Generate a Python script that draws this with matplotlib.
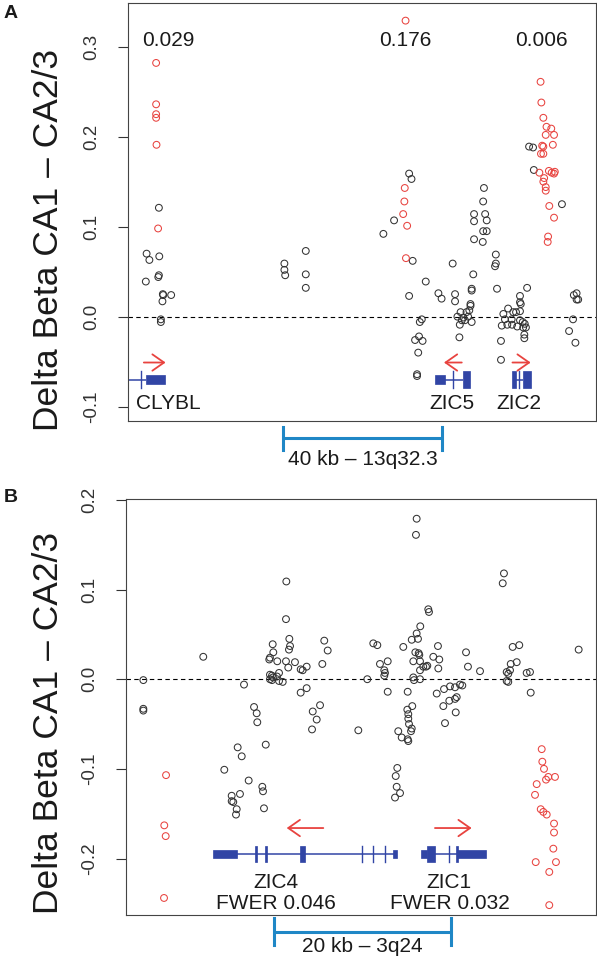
import matplotlib
matplotlib.use('Agg')
import matplotlib.pyplot as plt
import matplotlib.transforms as mtransforms
from matplotlib.patches import Rectangle, FancyArrowPatch

plt.rcParams['font.family'] = ['Liberation Sans', 'DejaVu Sans']

# ---------------- Panel A data (x: kb from window start, y: delta beta) ----------------
a_black_pos = [7.8, 4.7, 5.4, 7.9, 4.5, 7.8, 7.65, 8.8, 8.9, 10.9, 8.7, 8.3, 8.3,
               39.5, 39.5, 39.7, 44.9, 44.9, 44.9,
               71.0, 71.6, 67.2, 64.5, 71.9, 75.2, 71.0, 74.2, 73.7, 73.5, 72.5, 74.4,
               73.3, 73.0, 73.0, 82.0, 78.4, 79.2, 82.6, 82.6,
               89.9, 89.7, 87.4, 90.2, 87.4, 90.6, 89.7, 90.6, 87.4, 89.6, 87.2,
               86.8, 86.8, 86.5, 86.5,
               83.2, 84.0, 84.7, 85.5, 86.2, 85.1, 85.9, 86.8, 84.3, 83.8, 83.7,
               92.9, 92.9, 92.7, 93.2,
               101.3, 102.3, 102.5, 109.6, 100.8, 99.0, 99.0, 99.2, 96.0, 94.8, 97.3,
               98.0, 99.0, 95.2, 96.9, 99.0, 99.7, 100.2, 94.4, 95.8, 97.0, 98.3,
               99.8, 100.5, 100.1, 100.1, 94.2, 94.2,
               113.3, 112.6, 113.3, 113.7, 112.4, 111.4, 113.0]
a_black_val = [0.121, 0.070, 0.063, 0.067, 0.039, 0.046, 0.044, 0.025, 0.024, 0.024, 0.017, -0.003, -0.006,
               0.059, 0.052, 0.046, 0.073, 0.047, 0.032,
               0.159, 0.153, 0.107, 0.092, 0.062, 0.039, 0.023, -0.003, -0.006, -0.022, -0.026, -0.027,
               -0.040, -0.064, -0.066, 0.059, 0.026, 0.020, 0.025, 0.017,
               0.143, 0.128, 0.114, 0.114, 0.106, 0.107, 0.095, 0.095, 0.086, 0.083, 0.047,
               0.031, 0.029, 0.014, 0.012,
               0.000, 0.005, -0.001, 0.005, 0.007, -0.004, 0.000, -0.006, -0.004, -0.009, -0.023,
               0.069, 0.059, 0.056, 0.031,
               0.189, 0.188, 0.163, 0.125, 0.032, 0.023, 0.016, 0.014, 0.009, 0.003, 0.005,
               0.005, 0.006, -0.003, -0.003, -0.004, -0.006, -0.008, -0.010, -0.009, -0.009, -0.011,
               -0.012, -0.012, -0.020, -0.024, -0.027, -0.048,
               0.026, 0.024, 0.019, 0.019, -0.003, -0.016, -0.029]
a_red_pos = [7.1, 7.1, 7.1, 7.1, 7.2, 7.6,
             70.1, 69.9, 69.8, 69.5, 70.5, 70.2,
             104.2, 104.4, 104.9, 105.7, 106.9, 105.5, 107.6, 104.6, 104.9, 107.3, 104.3,
             104.9, 103.9, 106.3, 107.0, 107.6, 107.8, 105.1, 104.9, 105.5, 105.5, 106.4,
             107.6, 106.1, 106.0]
a_red_val = [0.282, 0.236, 0.225, 0.221, 0.191, 0.098,
             0.329, 0.143, 0.128, 0.114, 0.101, 0.065,
             0.261, 0.238, 0.221, 0.211, 0.209, 0.202, 0.202, 0.190, 0.189, 0.191, 0.181,
             0.181, 0.160, 0.162, 0.160, 0.159, 0.161, 0.154, 0.150, 0.144, 0.140, 0.123,
             0.110, 0.089, 0.083]
a_pval_text = ['0.029', '0.176', '0.006']
a_pval_pos = [10.2, 70.0, 104.5]

# genes in panel A: intron line, exons (start, end, tall?), thin ticks, arrow (from, to)
a_gene_names = ['CLYBL', 'ZIC5', 'ZIC2']
a_gene_label_pos = [2.0, 81.7, 98.7]
a_gene_lines = [(-2.0, 4.5), (80.0, 84.7), (97.9, 99.8)]
a_gene_exons = [[(4.5, 9.4, False)], [(77.5, 80.0, False), (84.7, 86.5, True)],
                [(96.9, 97.9, True), (99.8, 101.9, True)]]
a_gene_ticks = [[3.2], [82.1], [98.8]]
a_gene_arrows = [(4.0, 9.5), (84.3, 79.8), (97.1, 101.7)]
a_scale = (39.2, 79.2, '40 kb \u2013 13q32.3')

# ---------------- Panel B data ----------------
b_black_pos = [1.97, 1.97, 1.97, 8.78, 13.41, 14.55, 14.85, 14.92,
               18.18, 18.22, 18.56, 18.64, 18.52, 16.67, 16.74, 16.36, 16.28, 17.19, 18.18,
               18.44, 19.20, 19.85, 20.08, 20.53, 22.53, 22.92, 22.31,
               16.36, 16.59, 16.36, 16.59, 17.16, 17.39, 17.39, 17.81, 16.70,
               20.53, 19.85, 22.05, 21.22, 21.67, 21.14, 15.88, 12.69, 13.15, 11.17,
               13.94, 15.49, 15.57, 12.95, 12.01, 12.01, 12.19, 12.58, 12.50, 15.68, 26.40,
               33.03, 32.95, 42.95, 42.81, 51.44, 43.94, 44.69, 43.72, 44.40, 43.26, 43.44,
               43.64, 43.26, 43.44, 45.53, 45.91, 45.99, 40.23,
               34.35, 34.43, 33.44, 33.03, 33.18, 32.47, 28.10, 28.56, 31.51, 35.45, 38.64,
               32.88, 33.26, 33.33, 34.92, 35.60, 29.74, 28.86, 32.65, 33.41, 33.78, 34.09,
               34.24, 38.86, 33.41, 35.49, 29.35, 29.43, 29.35, 27.42, 32.65, 32.73, 33.41,
               29.74, 32.01, 35.31, 36.14, 36.82, 37.39, 37.95, 38.22,
               36.06, 36.74, 37.39, 37.58, 32.53, 31.97, 32.08, 32.08, 32.16, 32.47, 32.39,
               37.47, 36.25, 30.94, 31.33, 32.08, 32.01, 30.83, 30.65, 30.76, 31.14, 30.57]
b_black_val = [-0.001, -0.033, -0.035, 0.025, -0.006, -0.031, -0.038, -0.048,
               0.067, 0.109, 0.045, 0.037, 0.033, 0.039, 0.030, 0.024, 0.022, 0.020, 0.020,
               0.013, 0.019, 0.011, 0.010, 0.014, 0.043, 0.032, 0.017,
               0.005, 0.004, 0.000, -0.001, 0.003, 0.007, -0.002, -0.003, 0.002,
               -0.010, -0.015, -0.029, -0.036, -0.045, -0.056, -0.073, -0.076, -0.086, -0.101,
               -0.113, -0.120, -0.125, -0.128, -0.130, -0.136, -0.137, -0.145, -0.151, -0.144, -0.057,
               0.179, 0.161, 0.118, 0.107, 0.033, 0.036, 0.038, 0.017, 0.019, 0.008, 0.006,
               0.010, -0.002, -0.003, 0.007, 0.008, -0.015, 0.009,
               0.078, 0.075, 0.059, 0.051, 0.045, 0.044, 0.040, 0.038, 0.036, 0.037, 0.030,
               0.030, 0.029, 0.027, 0.025, 0.022, 0.020, 0.017, 0.020, 0.020, 0.014, 0.014,
               0.015, 0.014, 0.010, 0.012, 0.010, 0.007, 0.004, 0.000, 0.002, -0.001, 0.000,
               -0.014, -0.014, -0.016, -0.011, -0.008, -0.009, -0.006, -0.007,
               -0.030, -0.024, -0.022, -0.020, -0.030, -0.034, -0.039, -0.044, -0.050, -0.055, -0.058,
               -0.037, -0.049, -0.058, -0.065, -0.069, -0.067, -0.099, -0.108, -0.120, -0.127, -0.132]
b_red_pos = [4.55, 4.35, 4.51, 4.32,
             47.24, 47.31, 47.50, 47.99, 48.75, 47.73, 46.67, 46.48, 47.13, 47.42, 47.81,
             48.64, 48.64, 48.56, 46.56, 48.86, 48.10, 48.10]
b_red_val = [-0.107, -0.163, -0.175, -0.244,
             -0.078, -0.092, -0.100, -0.109, -0.109, -0.112, -0.117, -0.129, -0.145, -0.148, -0.151,
             -0.161, -0.171, -0.189, -0.204, -0.204, -0.215, -0.252]

b_gene_names = ['ZIC4\nFWER 0.046', 'ZIC1\nFWER 0.032']
b_gene_label_pos = [17.05, 36.75]
b_gene_lines = [(12.65, 30.83), (35.11, 37.65)]
b_gene_exons = [[(9.85, 12.65, False), (14.62, 14.92, True), (15.76, 16.06, True),
                 (19.77, 20.38, True), (30.38, 30.83, False)],
                [(33.49, 34.17, False), (34.17, 35.11, True), (37.45, 37.70, True),
                 (37.65, 40.91, False)]]
b_gene_ticks = [[26.78, 28.10, 29.43], [36.74]]
b_gene_arrows = [(22.42, 18.26), (35.11, 39.28)]
b_scale = (16.82, 36.90, '20 kb \u2013 3q24')

# ---------------- styling ----------------
W, H = 597, 958
fig = plt.figure(figsize=(W / 100, H / 100), dpi=100)
BLACK = '#333333'
RED = '#e8433f'
GENE = '#3145a5'
BAR = '#1f87c6'
TXT = '#1a1a1a'


def make_axes(l, r, t, b):
    return fig.add_axes([l / W, (H - b) / H, (r - l) / W, (b - t) / H])


axA = make_axes(128, 596, 3, 421)
axB = make_axes(126, 596, 499, 915)


def style(ax, xlim, ylim, ticks, labels):
    ax.set_xlim(*xlim)
    ax.set_ylim(*ylim)
    ax.set_xticks([])
    ax.set_yticks(ticks)
    ax.set_yticklabels(labels)
    for lab in ax.get_yticklabels():
        lab.set_rotation(90)
        lab.set_va('center')
        lab.set_ha('right')
    ax.tick_params(axis='y', length=7, width=0.8, pad=13, labelsize=13.5,
                   colors='#333333', labelcolor='#333333')
    for s in ax.spines.values():
        s.set_linewidth(0.8)
        s.set_color('#444444')
    ax.axhline(0, color='black', lw=0.8, ls=(0, (4, 3)), zorder=1)


def points(ax, bx, by, rx, ry):
    ax.scatter(bx, by, s=24, facecolors='none', edgecolors=BLACK, linewidths=0.75, zorder=3)
    ax.scatter(rx, ry, s=24, facecolors='none', edgecolors=RED, linewidths=0.75, zorder=3)


def genes(ax, gy, small_h, tall_h, arrow_y, label_y, names, lpos, lines, exons, ticks,
          arrows, ha_list):
    for (x0, x1) in lines:
        ax.plot([x0, x1], [gy, gy], color=GENE, lw=1.1, zorder=2, solid_capstyle='butt')
    for ex in exons:
        for (x0, x1, tall) in ex:
            h = tall_h if tall else small_h
            ax.add_patch(Rectangle((x0, gy - h), x1 - x0, 2 * h, facecolor=GENE,
                                   edgecolor=GENE, lw=0.5, zorder=2))
    for tk in ticks:
        for x in tk:
            ax.plot([x, x], [gy - tall_h, gy + tall_h], color=GENE, lw=1.0, zorder=2)
    for (x0, x1) in arrows:
        ax.add_patch(FancyArrowPatch((x0, arrow_y), (x1, arrow_y),
                                     arrowstyle='->,head_length=0.6,head_width=0.42',
                                     mutation_scale=14, color=RED, lw=1.3,
                                     shrinkA=0, shrinkB=0, zorder=2))
    for name, x, ha in zip(names, lpos, ha_list):
        ax.text(x, label_y, name, ha=ha, va='center', fontsize=15, color=TXT,
                linespacing=1.1)


def scalebar(ax, sb, y, cap0, cap1, ty):
    tr = mtransforms.blended_transform_factory(ax.transData, ax.transAxes)
    x0, x1, label = sb
    ax.plot([x0, x1], [y, y], color=BAR, lw=2.2, transform=tr, clip_on=False,
            solid_capstyle='butt')
    for x in (x0, x1):
        ax.plot([x, x], [cap0, cap1], color=BAR, lw=2.2, transform=tr, clip_on=False)
    ax.text((x0 + x1) / 2, ty, label, transform=tr, ha='center', va='center',
            fontsize=15, color=TXT)


# Panel A
style(axA, (0, 118.2), (-0.116, 0.3486), [-0.1, 0.0, 0.1, 0.2, 0.3],
      ['-0.1', '0.0', '0.1', '0.2', '0.3'])
points(axA, a_black_pos, a_black_val, a_red_pos, a_red_val)
for t, x in zip(a_pval_text, a_pval_pos):
    axA.text(x, 0.307, t, ha='center', va='center', fontsize=15, color=TXT)
genes(axA, -0.070, 0.005, 0.0092, -0.051, -0.096, a_gene_names, a_gene_label_pos,
      a_gene_lines, a_gene_exons, a_gene_ticks, a_gene_arrows, ['left', 'center', 'center'])
scalebar(axA, a_scale, -0.041, -0.0136, -0.069, -0.091)

# Panel B
style(axB, (0, 53.41), (-0.263, 0.201), [-0.2, -0.1, 0.0, 0.1, 0.2],
      ['-0.2', '-0.1', '0.0', '0.1', '0.2'])
points(axB, b_black_pos, b_black_val, b_red_pos, b_red_val)
genes(axB, -0.195, 0.0047, 0.0089, -0.166, -0.2385, b_gene_names, b_gene_label_pos,
      b_gene_lines, b_gene_exons, b_gene_ticks, b_gene_arrows, ['center', 'center'])
scalebar(axB, b_scale, -0.040, -0.0072, -0.072, -0.075)

# axis titles and panel letters
ylab = 'Delta Beta CA1 \u2013 CA2/3'
fig.text(49 / W, 1 - 240 / H, ylab, rotation=90, ha='center', va='center', fontsize=25.5,
         color=TXT)
fig.text(49 / W, 1 - 723 / H, ylab, rotation=90, ha='center', va='center', fontsize=25.5,
         color=TXT)
fig.text(11 / W, 1 - 14 / H, 'A', ha='center', va='center', fontsize=14, weight='bold',
         color=TXT)
fig.text(11 / W, 1 - 498 / H, 'B', ha='center', va='center', fontsize=14, weight='bold',
         color=TXT)

fig.savefig('out.png', dpi=100)
